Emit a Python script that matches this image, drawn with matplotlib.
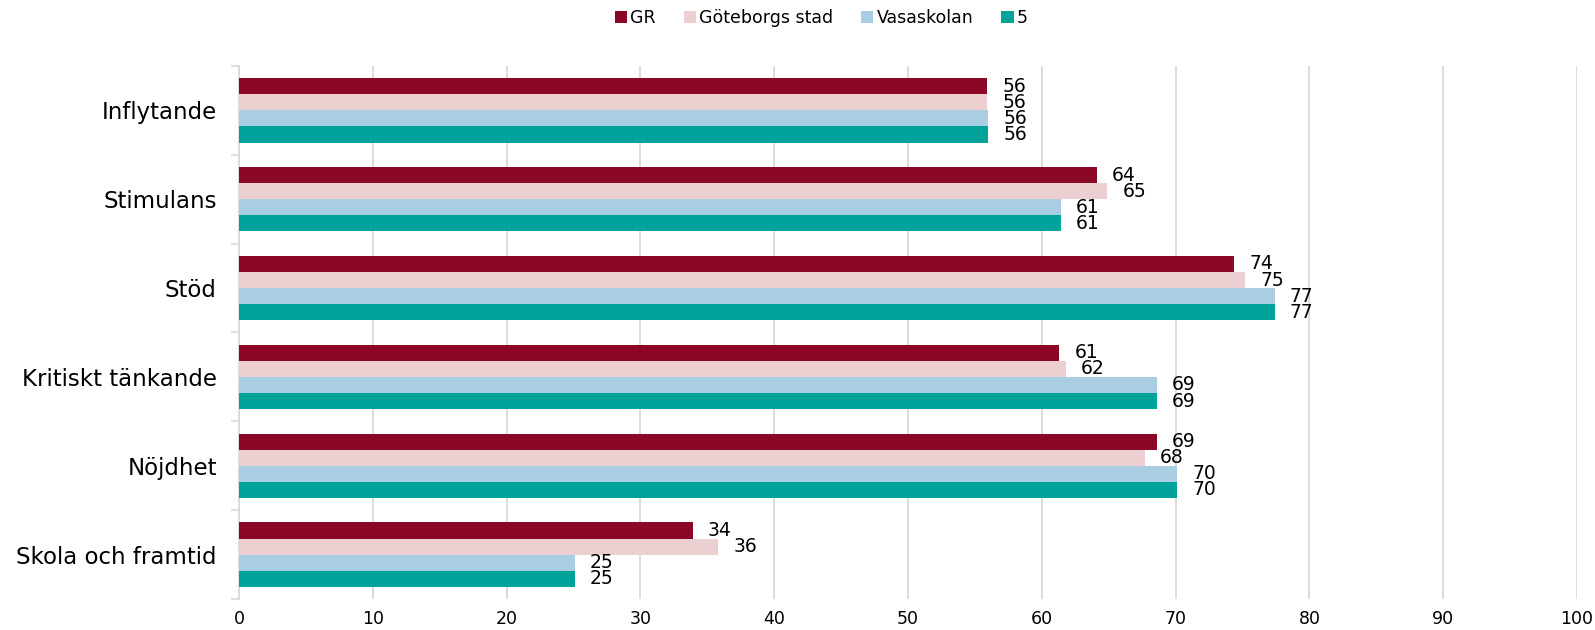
import matplotlib
matplotlib.use("Agg")
import matplotlib.pyplot as plt
import numpy as np
from matplotlib.patches import Patch

categories = ["Inflytande", "Stimulans", "Stöd", "Kritiskt tänkande", "Nöjdhet", "Skola och framtid"]
series_names = ["GR", "Göteborgs stad", "Vasaskolan", "5"]
gr = [55.9, 64.1, 74.4, 61.3, 68.6, 33.9]
goteborg = [55.9, 64.9, 75.2, 61.8, 67.7, 35.8]
vasaskolan = [56.0, 61.4, 77.4, 68.6, 70.1, 25.1]
five = [56.0, 61.4, 77.4, 68.6, 70.1, 25.1]
xticks = [0, 10, 20, 30, 40, 50, 60, 70, 80, 90, 100]

colors = ["#8C0725", "#ECD0D1", "#A9CEE1", "#00A39A"]
series = [gr, goteborg, vasaskolan, five]

plt.rcParams['font.family'] = ['DejaVu Sans']
fig = plt.figure(figsize=(15.95, 6.3), dpi=100)
ax = fig.add_axes([239/1595, 1 - 599/630, (1577 - 239)/1595, (599 - 66)/630])

n = len(categories)
bh = 0.181
ypos = np.arange(n)
for i, (vals, c) in enumerate(zip(series, colors)):
    y = ypos - 1.5 * bh + i * bh
    ax.barh(y, vals, height=bh, color=c, zorder=3)
    for yy, v in zip(y, vals):
        ax.annotate(f"{v:.0f}", xy=(v, yy), xytext=(11, 0), textcoords="offset points",
                    ha="left", va="center", fontsize=13.5, color="#000000", zorder=4)

ax.set_xlim(0, 100)
ax.set_ylim(n - 0.5, -0.5)
ax.set_xticks(xticks)
ax.set_xticklabels([str(t) for t in xticks], fontsize=12.5)
ax.set_yticks(ypos)
ax.set_yticklabels(categories, fontsize=16.5)
ax.set_yticks(np.arange(n + 1) - 0.5, minor=True)
ax.tick_params(axis="y", which="major", length=0, pad=16, labelcolor="#000000")
ax.tick_params(axis="y", which="minor", length=6, color="#d9d9d9", width=1.2, direction="out")
ax.tick_params(axis="x", length=0, pad=8, labelcolor="#000000")
ax.grid(axis="x", color="#d9d9d9", linewidth=1.3, zorder=0)
for s in ["top", "right", "bottom"]:
    ax.spines[s].set_visible(False)
ax.spines["left"].set_color("#d9d9d9")
ax.spines["left"].set_linewidth(1.2)

handles = [Patch(facecolor=c, edgecolor="none") for c in colors]
fig.legend(handles, series_names, loc="center", bbox_to_anchor=(0.515, 0.971), ncol=4,
           frameon=False, fontsize=12.5, handlelength=0.7, handleheight=0.7,
           handletextpad=0.2, columnspacing=1.6)

fig.savefig("out.png", dpi=100)
